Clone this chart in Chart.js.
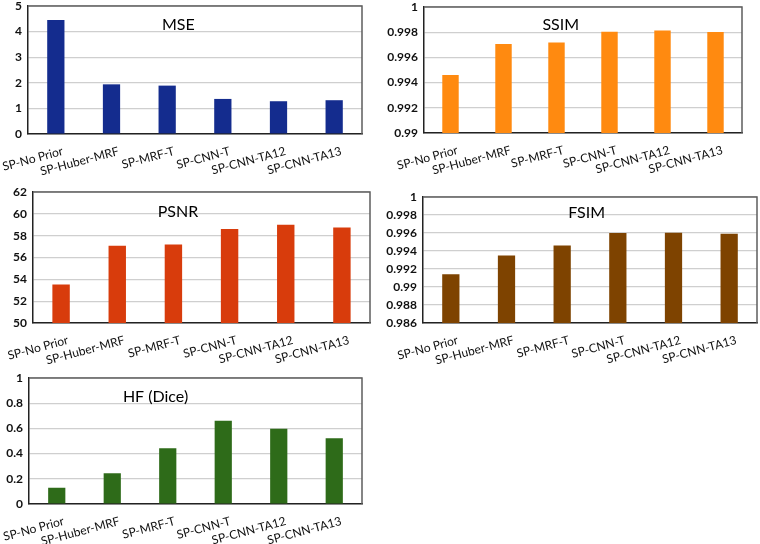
<!DOCTYPE html>
<html>
<head>
<meta charset="utf-8">
<script src="https://cdn.jsdelivr.net/npm/chart.js@4/dist/chart.umd.min.js"></script>
<style>
  html, body { margin: 0; padding: 0; background: #fff; }
  #page { position: relative; width: 760px; height: 544px; }
  .box { position: absolute; }
</style>
</head>
<body>
<div id="page">
  <div class="box" style="left:0;top:0;width:370px;height:180px"><canvas id="mse"></canvas></div>
  <div class="box" style="left:380px;top:0;width:380px;height:180px"><canvas id="ssim"></canvas></div>
  <div class="box" style="left:0;top:180px;width:380px;height:190px"><canvas id="psnr"></canvas></div>
  <div class="box" style="left:380px;top:180px;width:380px;height:190px"><canvas id="fsim"></canvas></div>
  <div class="box" style="left:0;top:370px;width:380px;height:174px"><canvas id="dice"></canvas></div>
</div>
<script>
// categories + per-metric values
const methods = ['SP-No Prior', 'SP-Huber-MRF', 'SP-MRF-T', 'SP-CNN-T', 'SP-CNN-TA12', 'SP-CNN-TA13'];
const mseValues = [4.45, 1.94, 1.89, 1.37, 1.28, 1.32];
const ssimValues = [0.99461, 0.99707, 0.99718, 0.99803, 0.99813, 0.99802];
const psnrValues = [53.52, 57.07, 57.2, 58.6, 58.99, 58.75];
const fsimValues = [0.99141, 0.99349, 0.9946, 0.996, 0.99604, 0.99593];
const diceValues = [0.129, 0.244, 0.442, 0.661, 0.598, 0.521];

const FONT = 'Lato, "Open Sans", sans-serif';

// draws the plot frame and the in-plot title
const framePlugin = {
    id: 'frame',
    afterDraw(chart, args, opts) {
        const { ctx, chartArea: a } = chart;
        ctx.save();
        ctx.strokeStyle = '#5e5e5e';
        ctx.lineWidth = 1.5;
        ctx.beginPath();
        ctx.moveTo(a.left, a.top);
        ctx.lineTo(a.right, a.top);
        ctx.lineTo(a.right, a.bottom);
        ctx.stroke();
        ctx.fillStyle = '#000';
        ctx.font = '16px ' + FONT;
        ctx.textAlign = 'center';
        ctx.textBaseline = 'middle';
        ctx.fillText(opts.text, a.left + opts.fx * (a.right - a.left), a.top + opts.dy);
        ctx.restore();
    },
};

function fmt(v) {
    return String(Math.round(v * 1000) / 1000);
}

function makeChart(id, values, color, yMin, yMax, step, title, pad, yWidth, xHeight) {
    const ctx = document.getElementById(id).getContext('2d');
    return new Chart(ctx, {
        type: 'bar',
        data: {
            labels: methods,
            datasets: [{
                data: values,
                backgroundColor: color,
                borderColor: color,
                borderWidth: 0,
                barPercentage: 0.31,
                categoryPercentage: 1,
            }],
        },
        options: {
            responsive: true,
            maintainAspectRatio: false,
            animation: false,
            layout: { padding: { top: pad.top, right: pad.right, left: 0, bottom: 0 } },
            plugins: {
                legend: { display: false },
                tooltip: { enabled: false },
                frame: title,
            },
            scales: {
                x: {
                    grid: { display: false },
                    border: { display: true, color: '#222', width: 1.5 },
                    ticks: {
                        color: '#111',
                        font: { family: FONT, size: 12 },
                        minRotation: 15,
                        maxRotation: 15,
                        autoSkip: false,
                        padding: 2,
                        labelOffset: 7,
                    },
                    afterFit(s) {
                        s.height = xHeight;
                        s.paddingLeft = 0;
                        s.paddingRight = 0;
                    },
                },
                y: {
                    min: yMin,
                    max: yMax,
                    grid: { color: '#cfcfcf', lineWidth: 1.2, drawTicks: false },
                    border: { display: true, color: '#222', width: 1.5 },
                    ticks: {
                        stepSize: step,
                        color: '#111',
                        font: { family: FONT, size: 12, weight: 'bold' },
                        padding: 6,
                        callback: fmt,
                    },
                    afterFit(s) {
                        s.width = yWidth;
                        s.paddingTop = 0;
                        s.paddingBottom = 0;
                    },
                },
            },
        },
        plugins: [framePlugin],
    });
}

makeChart('mse', mseValues, '#142c8e', 0, 5, 1,
    { text: 'MSE', fx: 0.45, dy: 19 }, { top: 6, right: 8 }, 28, 46);
makeChart('ssim', ssimValues, '#ff8a10', 0.99, 1, 0.002,
    { text: 'SSIM', fx: 0.43, dy: 18 }, { top: 7, right: 18 }, 44, 47);
makeChart('psnr', psnrValues, '#d83c0c', 50, 62, 2,
    { text: 'PSNR', fx: 0.43, dy: 20 }, { top: 12, right: 10 }, 33, 47);
makeChart('fsim', fsimValues, '#7e4300', 0.986, 1, 0.002,
    { text: 'FSIM', fx: 0.49, dy: 16 }, { top: 17, right: 3 }, 43, 47);
makeChart('dice', diceValues, '#2e6b19', 0, 1, 0.2,
    { text: 'HF (Dice)', fx: 0.38, dy: 19 }, { top: 8, right: 18 }, 29, 40);
</script>
</body>
</html>
